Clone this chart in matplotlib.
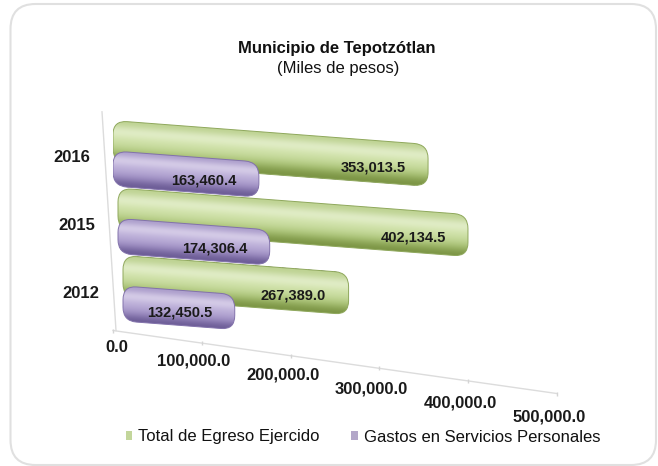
import numpy as np
import matplotlib.pyplot as plt
import matplotlib.transforms as mtransforms
from matplotlib.patches import FancyBboxPatch, Patch
from matplotlib.colors import to_rgb

# data
years = ["2012", "2015", "2016"]
total_egreso = [267389.0, 402134.5, 353013.5]
gastos_personales = [132450.5, 174306.4, 163460.4]
x_ticks = [0, 100000, 200000, 300000, 400000, 500000]
series_names = ["Total de Egreso Ejercido", "Gastos en Servicios Personales"]

# shades for the "cylinder" bars, bottom -> top
green_shades = ["#7b9444", "#a9c275", "#c6da9c", "#d3e4ae", "#e9f2d4", "#bdd291"]
purple_shades = ["#6c5c96", "#9a8abf", "#b4a6d3", "#c2b6dc", "#e0d8ee", "#ab9dcb"]

plt.rcParams['font.family'] = ['Liberation Sans', 'DejaVu Sans']

W, H = 658, 466
fig = plt.figure(figsize=(W / 100, H / 100), dpi=100)

XMAX = 518000
PX_Y = 67.5                      # pixels per category step
ax = fig.add_axes([113 / W, 1 - 384.5 / H, 460 / W, 4.0 * PX_Y / H])
ax.axis('off')

x0 = 113
x_per_px = XMAX / 460
aspect = (1 / PX_Y) / x_per_px


def slanted(slope, shift=0, stretch=1.0):
    # fake 3d: things drop towards the right; front rows start a bit further right
    return ax.transData + (mtransforms.Affine2D().translate(-x0, 0).scale(stretch, 1)
                           .skew(0, np.arctan(-slope)).translate(x0 + shift, 0))


floor_tr = slanted(0.142)
label_tr = slanted(0.158)
row_stretch = [0.95, 0.98, 1.005]   # perspective per row (2012 is nearest)


def cyl_bar(tr, y, value, height, shades, edge, z):
    patch = FancyBboxPatch((0, y - height / 2), value, height,
                           boxstyle=f"round,pad=0,rounding_size={14 * x_per_px}",
                           mutation_aspect=aspect, transform=tr,
                           facecolor='none', edgecolor=edge, lw=0.7, zorder=z + 0.5)
    ax.add_patch(patch)
    grad = np.array([to_rgb(c) for c in shades])[:, None, :]
    im = ax.imshow(grad, extent=(0, value, y - height / 2, y + height / 2),
                   origin='lower', aspect='auto', interpolation='bicubic',
                   transform=tr, zorder=z)
    im.set_clip_path(patch)


ypos = np.arange(len(years))
for i in ypos:
    tr = slanted(0.076, shift=5 * (len(years) - 1 - i), stretch=row_stretch[i])
    z = 2 + (len(years) - i) * 2
    yg = i + 0.2
    yp = i - 0.2
    cyl_bar(tr, yg, total_egreso[i], 0.62, green_shades, "#8fa85c", z)
    cyl_bar(tr, yp, gastos_personales[i], 0.52, purple_shades, "#8272ab", z + 1)
    ax.annotate(f"{total_egreso[i]:,.1f}", xy=(total_egreso[i], yg), xycoords=tr,
                xytext=(-55, -2), textcoords='offset pixels', ha='center', va='center',
                fontsize=10.5, fontweight='bold', color='#1a1a1a', zorder=20)
    ax.annotate(f"{gastos_personales[i]:,.1f}", xy=(gastos_personales[i], yp), xycoords=tr,
                xytext=(-55, -1), textcoords='offset pixels', ha='center', va='center',
                fontsize=10.5, fontweight='bold', color='#1a1a1a', zorder=20)
    # year labels, shifted right a bit lower down (perspective)
    ax.annotate(years[i], xy=(0, i), xycoords='data',
                xytext=(-32 - 4.5 * i, -3), textcoords='offset pixels',
                ha='center', va='center', fontsize=12, fontweight='bold', color='#1a1a1a')

ax.set_xlim(0, XMAX)
ax.set_ylim(-1.4, 2.6)

# walls
ax.plot([3 * x_per_px, -11 * x_per_px], [-0.6, 2.64], color='#dcdcdc', lw=1.0, clip_on=False, zorder=1)
ax.plot([0, x_ticks[-1]], [-0.6, -0.6], color='#dcdcdc', lw=1.0, transform=floor_tr,
        clip_on=False, zorder=1)
ax.plot(x_ticks, [-0.6] * len(x_ticks), ls='none', marker='|', ms=3, color='#d4d4d4',
        transform=floor_tr, clip_on=False, zorder=1)
for t in x_ticks:
    ax.annotate(f"{t:,.1f}", xy=(t, -0.6), xycoords=label_tr,
                xytext=(-8 if t else 4, -16.5), textcoords='offset pixels',
                ha='center', va='center', fontsize=12, fontweight='bold', color='#1a1a1a')

fig.text(337 / W, 1 - 48 / H, "Municipio de Tepotzótlan", ha='center', va='center',
         fontsize=12, fontweight='bold', color='#111111')
fig.text(338 / W, 1 - 68 / H, "(Miles de pesos)", ha='center', va='center',
         fontsize=12, color='#111111')

handles = [Patch(facecolor="#c3d69b", edgecolor='none'),
           Patch(facecolor="#b3a7c9", edgecolor='none')]
fig.legend(handles, series_names, loc='center', bbox_to_anchor=(363 / W, 1 - 437 / H),
           ncol=2, frameon=False, fontsize=12, handlelength=0.38, handleheight=0.38,
           handletextpad=0.35, columnspacing=1.9, labelcolor='#111111')

# rounded frame around the chart
frame = FancyBboxPatch((10.5, 1), 645.5, 461, boxstyle="round,pad=0,rounding_size=25",
                       transform=mtransforms.IdentityTransform(), facecolor='none',
                       edgecolor='#e0e0e0', lw=1.5)
fig.add_artist(frame)

fig.savefig("out.png", dpi=100)
